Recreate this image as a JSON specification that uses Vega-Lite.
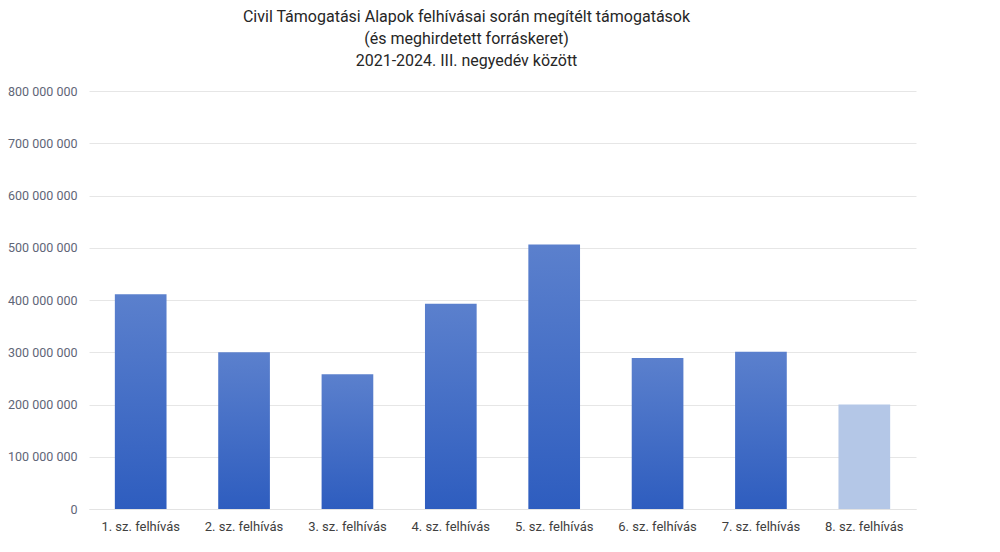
{
  "$schema": "https://vega.github.io/schema/vega-lite/v6.json",
  "width": 827,
  "height": 418,
  "autosize": {"type": "none"},
  "padding": {"left": 89, "top": 91, "right": 84, "bottom": 43},
  "background": "white",
  "config": {
    "view": {"stroke": null},
    "locale": {"number": {"decimal": ",", "thousands": " ", "grouping": [3], "currency": ["", " Ft"]}},
    "font": "Roboto"
  },
  "title": {
    "text": [
      "Civil Támogatási Alapok felhívásai során megítélt támogatások",
      "(és meghirdetett forráskeret)",
      "2021-2024. III. negyedév között"
    ],
    "anchor": "middle",
    "frame": "group",
    "dx": -36,
    "offset": 16,
    "font": "Roboto",
    "fontSize": 16,
    "fontWeight": "normal",
    "color": "#262626",
    "lineHeight": 22
  },
  "data": {
    "values": [
      {"felhivas": "1. sz. felhívás", "osszeg": 411000000, "tipus": "megítélt"},
      {"felhivas": "2. sz. felhívás", "osszeg": 300000000, "tipus": "megítélt"},
      {"felhivas": "3. sz. felhívás", "osszeg": 258000000, "tipus": "megítélt"},
      {"felhivas": "4. sz. felhívás", "osszeg": 393000000, "tipus": "megítélt"},
      {"felhivas": "5. sz. felhívás", "osszeg": 506000000, "tipus": "megítélt"},
      {"felhivas": "6. sz. felhívás", "osszeg": 289000000, "tipus": "megítélt"},
      {"felhivas": "7. sz. felhívás", "osszeg": 301000000, "tipus": "megítélt"},
      {"felhivas": "8. sz. felhívás", "osszeg": 200000000, "tipus": "meghirdetett"}
    ]
  },
  "encoding": {
    "x": {
      "field": "felhivas",
      "type": "nominal",
      "sort": null,
      "scale": {"paddingInner": 0.5, "paddingOuter": 0.25},
      "axis": {
        "title": null,
        "labelAngle": 0,
        "labelFont": "Roboto",
        "labelFontSize": 13,
        "labelColor": "#404040",
        "labelPadding": 11,
        "ticks": false,
        "domainColor": "#e3e3e3",
        "domainWidth": 1
      }
    },
    "y": {
      "field": "osszeg",
      "type": "quantitative",
      "scale": {"domain": [0, 800000000], "nice": false},
      "axis": {
        "title": null,
        "values": [0, 100000000, 200000000, 300000000, 400000000, 500000000, 600000000, 700000000, 800000000],
        "format": ",d",
        "labelFont": "Roboto",
        "labelFontSize": 12.5,
        "labelColor": "#5f6677",
        "labelPadding": 12,
        "ticks": false,
        "domain": false,
        "gridColor": "#e6e6e6",
        "gridWidth": 1
      }
    }
  },
  "layer": [
    {
      "transform": [{"filter": "datum.tipus === 'megítélt'"}],
      "mark": {
        "type": "bar",
        "color": {
          "gradient": "linear",
          "x1": 0, "y1": 0, "x2": 0, "y2": 1,
          "stops": [
            {"offset": 0, "color": "#5b80cd"},
            {"offset": 1, "color": "#2e5dbf"}
          ]
        }
      }
    },
    {
      "transform": [{"filter": "datum.tipus === 'meghirdetett'"}],
      "mark": {"type": "bar", "color": "#b4c7e7"}
    }
  ]
}
